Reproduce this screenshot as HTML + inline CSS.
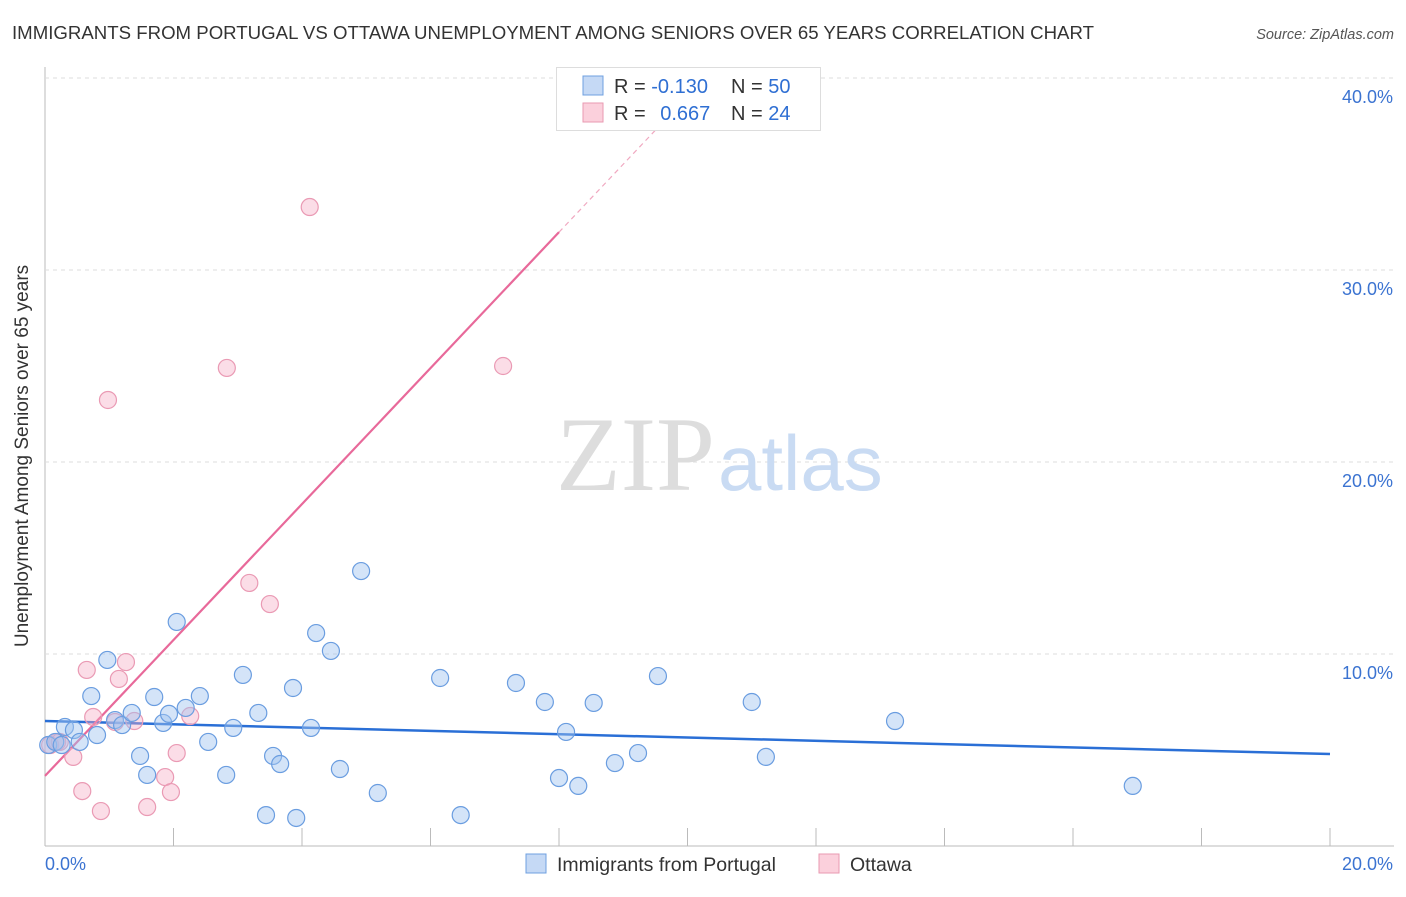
<!DOCTYPE html>
<html><head><meta charset="utf-8"><style>
body{margin:0;background:#fff;font-family:"Liberation Sans",sans-serif}
</style></head><body>
<svg id="chart" width="1406" height="892" xmlns="http://www.w3.org/2000/svg" font-family="Liberation Sans, sans-serif">
<text x="12" y="39" font-size="18" fill="#333" textLength="1082" lengthAdjust="spacingAndGlyphs">IMMIGRANTS FROM PORTUGAL VS OTTAWA UNEMPLOYMENT AMONG SENIORS OVER 65 YEARS CORRELATION CHART</text>
<text x="1394" y="39" font-size="14.5" fill="#555" font-style="italic" text-anchor="end">Source: ZipAtlas.com</text>
<g id="grid"></g>
<text x="715" y="490" font-size="106" fill="#ddd" text-anchor="end" font-family="Liberation Serif, serif">ZIP</text>
<text x="718" y="490" font-size="78" fill="#c9dbf3">atlas</text>
<g id="lines"></g>
<g id="points"></g>
<text x="28" y="456" font-size="19" fill="#333" text-anchor="middle" transform="rotate(-90 28 456)">Unemployment Among Seniors over 65 years</text>
<g>
<rect x="556.5" y="67.5" width="264" height="63" fill="#fff" stroke="#ddd"/>
<rect x="583" y="76" width="20" height="19" fill="#c5d9f5" stroke="#6fa0e0"/>
<rect x="583" y="103" width="20" height="19" fill="#fbd0dc" stroke="#e89ab2"/>
<text x="614" y="93" font-size="20" fill="#333">R = <tspan fill="#2f6fd3">-0.130</tspan></text>
<text x="731" y="93" font-size="20" fill="#333">N = <tspan fill="#2f6fd3">50</tspan></text>
<text x="614" y="120" font-size="20" fill="#333">R = <tspan fill="#2f6fd3" dx="9">0.667</tspan></text>
<text x="731" y="120" font-size="20" fill="#333">N = <tspan fill="#2f6fd3">24</tspan></text>
</g>
<g>
<rect x="526" y="854" width="20" height="19" fill="#c5d9f5" stroke="#6fa0e0"/>
<text x="557" y="871" font-size="19.5" fill="#333">Immigrants from Portugal</text>
<rect x="819" y="854" width="20" height="19" fill="#fbd0dc" stroke="#e89ab2"/>
<text x="850" y="871" font-size="19.5" fill="#333">Ottawa</text>
</g>
</svg>
<script>
const yTicks=[10,20,30,40];
const yTickLabels=["10.0%","20.0%","30.0%","40.0%"];
const xTickLabels=["0.0%","20.0%"];
const blueX=[0.05,0.16,0.26,0.31,0.45,0.54,0.72,0.81,0.97,1.09,1.2,1.35,1.48,1.59,1.7,1.84,1.93,2.05,2.19,2.41,2.54,2.82,2.93,3.08,3.32,3.44,3.55,3.66,3.86,3.91,4.14,4.22,4.45,4.59,4.92,5.18,6.15,6.47,7.33,7.78,8.0,8.11,8.3,8.54,8.87,9.23,9.54,11.0,11.22,13.23,16.93];
const blueY=[5.26,5.42,5.26,6.2,6.04,5.42,7.81,5.78,9.69,6.56,6.3,6.93,4.69,3.7,7.76,6.41,6.88,11.67,7.19,7.81,5.42,3.7,6.15,8.91,6.93,1.61,4.69,4.27,8.23,1.46,6.15,11.09,10.16,4.01,14.32,2.76,8.75,1.61,8.49,7.5,3.54,5.94,3.13,7.45,4.32,4.84,8.85,7.5,4.64,6.51,3.13];
const pinkX=[0.08,0.19,0.23,0.44,0.58,0.65,0.75,0.87,0.98,1.09,1.15,1.26,1.39,1.59,1.87,1.96,2.05,2.26,2.83,3.18,3.5,4.12,7.13];
const pinkY=[5.26,5.42,5.42,4.64,2.86,9.17,6.72,1.82,23.23,6.46,8.7,9.58,6.51,2.03,3.59,2.81,4.84,6.77,24.9,13.7,12.6,33.28,25.0];
const blueTrend=[6.51,4.79];
const pinkTrend=[3.65,3.54];
const NS="http://www.w3.org/2000/svg";
const X=v=>45+v*64.25, Y=v=>846-v*19.2;
function mk(t,a,p){const e=document.createElementNS(NS,t);for(const k in a)e.setAttribute(k,a[k]);document.getElementById(p).appendChild(e);return e;}
const ax=mk('line',{x1:45,y1:67,x2:45,y2:846,stroke:'#bbb'},'grid');


const bx=mk('line',{x1:45,y1:846,x2:1394,y2:846,stroke:'#bbb'},'grid');


yTicks.forEach((t,i)=>{
 const g=mk('line',{x1:45,x2:1394,y1:Y(t),y2:Y(t),stroke:'#ddd','stroke-dasharray':'4,4'},'grid');
 
 
 const l=mk('text',{x:1393,y:Y(t)+25,'font-size':18,fill:'#3b73d1','text-anchor':'end'},'grid');
 l.textContent=yTickLabels[i];
 
 
});
for(let v=2;v<=20;v+=2){
 const t=mk('line',{x1:X(v),x2:X(v),y1:828,y2:846,stroke:'#bbb'},'grid');
 
 
}
[[0,'start',45],[20,'end',1393]].forEach((d,i)=>{
 const l=mk('text',{x:d[2],y:870,'font-size':18,fill:'#3b73d1','text-anchor':d[1]},'grid');
 l.textContent=xTickLabels[i];
 
 
});
pinkX.forEach((x,i)=>{
 const c=mk('circle',{cx:X(x),cy:Y(pinkY[i]),r:8.5,fill:'rgba(246,170,195,0.4)',stroke:'#ea9ab4','stroke-width':1.2},'points');
 
 
});
blueX.forEach((x,i)=>{
 const c=mk('circle',{cx:X(x),cy:Y(blueY[i]),r:8.5,fill:'rgba(160,195,240,0.45)',stroke:'#6a9de0','stroke-width':1.2},'points');
 
 
});
const bl=mk('line',{x1:X(0),y1:Y(blueTrend[0]),x2:X(20),y2:Y(blueTrend[1]),stroke:'#2a6fd6','stroke-width':2.5},'lines');


const pl=mk('line',{x1:X(0),y1:Y(pinkTrend[0]),x2:X(8),y2:Y(pinkTrend[0]+8*pinkTrend[1]),stroke:'#e8699a','stroke-width':2.2},'lines');


const pd=mk('line',{x1:X(8),y1:Y(pinkTrend[0]+8*pinkTrend[1]),x2:X(9.5),y2:Y(pinkTrend[0]+9.5*pinkTrend[1]),stroke:'#f0a8c0','stroke-width':1.2,'stroke-dasharray':'5,4'},'lines');


</script>
</body></html>
